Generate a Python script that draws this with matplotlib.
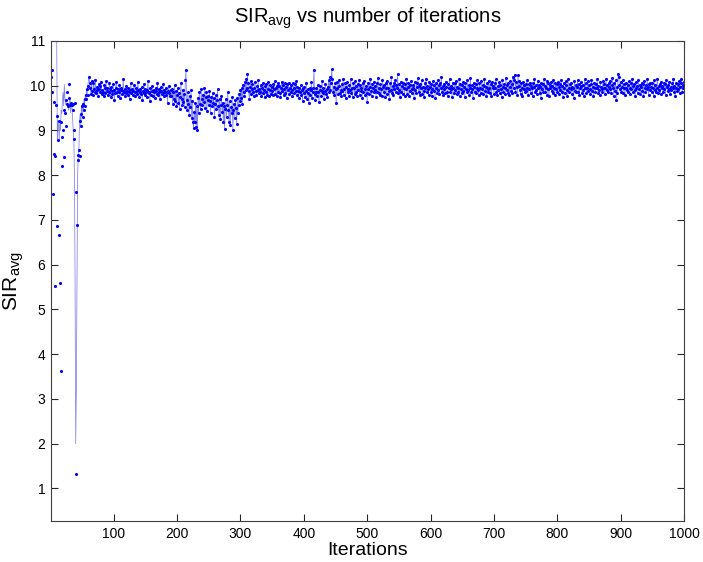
import numpy as np
import matplotlib
matplotlib.use("Agg")
import matplotlib.pyplot as plt

plt.rcParams['font.family'] = ['Liberation Sans', 'DejaVu Sans']
plt.rcParams['mathtext.fontset'] = 'custom'
plt.rcParams['mathtext.rm'] = 'Liberation Sans'

# ---- data ----
sir_early = [10.20, 10.35, 9.85, 7.59, 8.47, 9.64, 8.43, 5.53, 9.56, 9.32,
             6.87, 8.78, 6.66, 9.22, 5.60, 9.20, 3.62, 8.20, 8.85, 9.00,
             9.45, 8.41, 9.38, 9.10, 9.67, 9.60, 9.85, 9.55, 10.03, 9.72,
             9.58, 9.60, 9.62, 9.58, 9.60, 9.45, 9.00, 8.80, 9.62, 7.62,
             1.31, 6.88, 8.45, 8.34, 8.56, 8.43, 9.21, 9.36, 9.10, 9.55,
             9.30, 9.60, 9.45, 9.70, 9.55, 9.80, 9.70, 9.92, 9.80, 10.00,
             10.20]

line_early = [7.80, 12.0, 12.0, 12.0, 12.0, 12.0, 12.0, 12.0, 12.0, 11.0,
              8.80, 9.22, 9.10, 8.80, 9.20, 9.00, 9.45, 9.38, 9.67, 9.85,
              9.55, 10.03, 9.72, 9.58, 9.60, 9.62, 9.58, 9.60, 9.45, 9.62,
              9.70, 9.40, 9.60, 9.55, 9.30, 9.00, 8.80, 8.00, 5.60, 2.00,
              3.20, 5.60, 8.00, 8.45, 8.56, 9.21, 9.36, 9.10, 9.55, 9.30,
              9.60, 9.45, 9.70, 9.55, 9.80, 9.70, 9.92, 9.80, 10.00, 10.10,
              10.20]

sir_062_190 = [10.07, 9.95, 9.82, 10.10, 9.88, 9.80, 10.05, 9.92, 9.86, 10.12,
               9.84, 9.97, 9.90, 9.78, 10.04, 9.93, 9.85, 9.99, 10.08, 9.81,
               9.91, 9.87, 9.76, 10.02, 9.94, 9.83, 10.11, 9.89, 9.95, 9.79,
               9.86, 10.06, 9.92, 9.74, 9.98, 9.88, 9.82, 10.03, 9.90, 9.69,
               9.84, 9.96, 10.09, 9.87, 9.78, 9.93, 9.85, 10.01, 9.72, 9.90,
               9.95, 9.81, 9.88, 10.14, 9.86, 9.77, 9.92, 9.83, 9.99, 9.89,
               9.80, 9.94, 9.87, 9.70, 9.91, 10.05, 9.84, 9.93, 9.79, 9.88,
               10.02, 9.85, 9.76, 9.95, 9.89, 9.82, 10.08, 9.90, 9.74, 9.86,
               9.93, 9.81, 9.97, 9.68, 9.88, 9.84, 10.04, 9.79, 9.92, 9.86,
               9.75, 9.90, 10.11, 9.83, 9.87, 9.65, 9.94, 9.80, 9.89, 10.00,
               9.78, 9.91, 9.85, 9.72, 9.96, 9.88, 9.82, 10.06, 9.79, 9.93,
               9.86, 9.70, 9.89, 9.97, 9.81, 9.84, 10.03, 9.76, 9.90, 9.87,
               9.80, 9.94, 9.85, 9.62, 9.88, 9.99, 9.83, 9.77, 9.91]

sir_191_300 = [9.78, 9.92, 9.60, 9.85, 9.71, 10.02, 9.66, 9.88, 9.55, 9.79,
               9.94, 9.62, 9.83, 9.48, 9.75, 10.05, 9.70, 9.58, 9.90, 9.64,
               9.82, 9.53, 10.12, 10.35, 9.68, 9.45, 9.86, 9.60, 9.35, 9.77,
               9.52, 9.90, 9.28, 9.65, 9.20, 9.05, 9.42, 9.18, 9.62, 9.08,
               9.55, 9.00, 9.73, 9.38, 9.85, 9.60, 9.48, 9.92, 9.70, 9.56,
               9.80, 9.63, 9.95, 9.51, 9.74, 9.86, 9.44, 9.68, 9.78, 9.58,
               9.88, 9.66, 9.40, 9.75, 9.55, 9.83, 9.62, 9.72, 9.30, 9.60,
               9.80, 9.48, 9.68, 9.92, 9.55, 9.35, 9.70, 9.25, 9.58, 9.76,
               9.42, 9.62, 9.18, 9.55, 9.04, 9.48, 9.70, 9.30, 9.58, 9.85,
               9.45, 9.20, 9.66, 9.12, 9.52, 9.38, 9.75, 9.02, 9.45, 9.60,
               9.28, 9.68, 9.50, 9.15, 9.72, 9.40, 9.58, 9.82, 9.65, 9.90]

sir_301_330 = [9.72, 9.95, 9.60, 10.02, 9.85, 9.78, 10.08, 9.90, 10.15, 9.95,
               10.26, 10.05, 9.88, 9.70, 9.98, 10.10, 9.82, 9.93, 10.04, 9.86,
               9.76, 9.95, 10.08, 9.88, 9.80, 9.99, 9.90, 10.12, 9.84, 9.93]

sir_331_450 = [9.87, 10.02, 9.78, 9.95, 9.83, 10.06, 9.91, 9.74, 9.99, 9.86,
               10.04, 9.80, 9.93, 10.08, 9.76, 9.90, 10.01, 9.82, 9.97, 9.88,
               9.79, 10.03, 9.92, 10.10, 9.81, 9.95, 9.99, 9.77, 10.05, 9.87,
               10.00, 9.84, 9.75, 9.96, 10.09, 9.89, 10.02, 9.80, 9.93, 10.06,
               9.83, 9.98, 9.72, 10.04, 9.90, 10.07, 9.82, 9.95, 9.86, 10.01,
               9.91, 9.78, 10.05, 9.94, 9.84, 10.03, 9.88, 10.10, 9.79, 9.97,
               9.88, 9.72, 9.94, 9.85, 10.02, 9.79, 9.90, 9.66, 9.96, 9.83,
               9.98, 9.75, 9.88, 10.05, 9.70, 9.92, 9.84, 9.61, 9.95, 9.80,
               9.90, 10.08, 9.73, 9.86, 9.96, 10.36, 9.82, 9.68, 9.94, 9.87,
               9.78, 10.02, 9.85, 9.64, 9.91, 9.99, 9.76, 9.89, 10.10, 9.83,
               9.95, 9.70, 9.88, 10.04, 9.81, 9.92, 9.74, 9.97, 10.12, 9.86,
               10.20, 9.90, 10.05, 10.37, 10.15, 9.85, 9.98, 9.79, 10.06, 9.92]

sir_451_1000 = [9.62, 9.95, 10.08, 9.81, 9.99, 10.12, 9.84, 9.90, 9.76, 10.03,
                9.88, 10.14, 9.79, 9.93, 10.05, 9.72, 9.97, 10.09, 9.85, 9.92,
                9.78, 10.02, 9.90, 10.16, 9.83, 9.96, 9.74, 10.06, 9.94, 9.82,
                10.10, 9.87, 9.99, 9.77, 10.04, 9.91, 10.13, 9.80, 10.01, 9.89,
                9.95, 9.73, 10.07, 9.86, 10.11, 9.92, 9.79, 10.00, 9.84, 9.63,
                9.93, 10.06, 9.81, 9.98, 10.15, 9.88, 9.76, 10.03, 9.95, 9.85,
                10.09, 9.90, 10.00, 9.75, 10.05, 9.87, 10.18, 9.83, 9.96, 9.80,
                10.04, 9.92, 9.78, 10.12, 9.97, 9.86, 10.02, 9.74, 10.07, 9.94,
                9.82, 10.10, 9.95, 9.88, 9.71, 10.05, 9.91, 10.19, 9.84, 10.00,
                9.79, 10.06, 9.93, 10.13, 9.85, 10.01, 9.96, 10.26, 9.83, 10.04,
                9.90, 9.75, 10.09, 9.87, 9.99, 9.82, 10.07, 9.95, 9.78, 10.03,
                9.92, 10.14, 9.81, 9.97, 10.05, 9.76, 10.01, 9.88, 10.11, 9.93,
                9.84, 10.02, 9.96, 9.73, 10.08, 9.91, 9.83, 10.06, 9.98, 10.17,
                9.86, 9.99, 9.79, 10.04, 9.94, 10.12, 9.82, 9.97, 9.89, 9.74,
                10.06, 9.95, 10.15, 9.85, 10.00, 9.92, 9.80, 10.09, 9.98, 9.87,
                10.03, 9.77, 9.93, 10.10, 9.88, 10.01, 9.72, 10.05, 9.96, 9.84,
                10.13, 9.91, 10.02, 9.81, 10.06, 9.94, 10.20, 9.86, 9.99, 9.79,
                10.04, 9.92, 9.83, 10.09, 9.97, 9.87, 9.76, 10.03, 9.95, 10.14,
                9.85, 10.00, 9.93, 9.74, 10.07, 9.96, 9.84, 10.05, 9.91, 10.11,
                9.82, 9.98, 9.94, 9.86, 10.16, 9.78, 10.04, 9.92, 9.83, 10.01,
                10.08, 9.88, 9.97, 9.75, 10.06, 9.93, 9.85, 10.12, 9.90, 10.02,
                9.80, 9.96, 10.18, 9.87, 10.01, 9.92, 9.73, 10.07, 9.98, 9.86,
                10.04, 9.83, 9.95, 10.13, 9.91, 9.79, 10.05, 9.96, 9.84, 10.10,
                9.93, 10.02, 9.81, 9.99, 10.15, 9.88, 9.97, 9.76, 10.06, 9.92,
                9.85, 10.11, 9.96, 9.83, 10.03, 9.78, 10.08, 9.94, 10.00, 9.82,
                10.05, 9.95, 10.14, 9.87, 9.80, 9.99, 9.91, 10.09, 9.84, 10.02,
                9.93, 9.74, 10.12, 9.97, 9.86, 10.04, 9.96, 9.81, 10.17, 9.90,
                10.01, 9.84, 10.06, 9.79, 9.98, 10.10, 9.89, 10.03, 9.83, 10.19,
                9.94, 10.13, 10.25, 9.86, 10.08, 9.97, 9.80, 10.23, 10.00, 10.11,
                9.91, 9.82, 10.05, 9.95, 9.76, 10.09, 9.93, 10.01, 9.85, 10.04,
                9.88, 10.12, 9.96, 9.79, 10.03, 9.92, 10.07, 9.83, 9.99, 9.94,
                9.77, 10.05, 9.97, 10.14, 9.86, 10.01, 9.91, 9.81, 10.10, 9.95,
                10.02, 9.84, 9.98, 9.72, 10.06, 9.93, 10.04, 9.87, 10.16, 9.99,
                9.85, 9.94, 10.11, 9.80, 10.05, 9.92, 9.78, 10.02, 9.96, 10.08,
                9.88, 10.00, 9.83, 10.13, 9.95, 9.79, 10.06, 9.93, 10.03, 9.86,
                10.09, 9.97, 9.82, 10.04, 9.91, 10.12, 9.87, 9.99, 9.75, 10.05,
                9.95, 9.84, 10.10, 10.01, 9.90, 9.78, 10.15, 9.96, 9.87, 10.03,
                9.92, 10.07, 9.81, 9.98, 9.94, 9.73, 10.11, 9.89, 10.02, 9.85,
                9.97, 10.13, 9.86, 10.04, 9.80, 9.95, 10.08, 9.99, 9.84, 10.01,
                9.91, 9.77, 10.14, 9.96, 10.05, 9.83, 9.94, 10.10, 9.88, 10.02,
                9.93, 9.82, 10.04, 10.12, 9.89, 9.98, 9.76, 10.07, 9.95, 9.86,
                10.03, 9.94, 10.16, 9.84, 10.00, 9.91, 9.79, 10.09, 9.97, 9.92,
                9.87, 10.11, 9.96, 10.04, 9.82, 9.95, 10.14, 9.90, 10.02, 9.85,
                9.98, 10.06, 9.93, 10.10, 9.83, 10.01, 10.17, 9.94, 9.78, 10.05,
                9.89, 10.13, 9.68, 9.97, 9.84, 10.27, 10.19, 10.02, 9.92, 10.08,
                9.86, 9.98, 10.12, 9.83, 10.04, 9.95, 9.79, 10.07, 9.96, 9.90,
                10.02, 9.85, 10.10, 9.94, 9.81, 10.05, 9.92, 10.15, 9.99, 9.87,
                10.03, 9.91, 9.76, 10.08, 9.96, 10.00, 9.84, 10.13, 9.93, 10.02,
                9.82, 9.97, 10.06, 9.89, 10.04, 9.78, 10.11, 9.95, 9.86, 10.01,
                9.92, 10.14, 9.97, 9.80, 10.03, 9.90, 10.07, 9.98, 9.85, 10.05,
                9.94, 9.77, 10.12, 9.90, 10.02, 9.86, 9.96, 10.16, 9.83, 10.00,
                9.91, 10.04, 9.81, 10.09, 9.95, 9.99, 9.85, 10.06, 9.93, 10.03,
                9.79, 10.13, 9.97, 9.88, 10.01, 9.92, 10.08, 9.82, 9.98, 9.90,
                10.05, 9.94, 10.15, 9.86, 10.00, 9.76, 10.07, 9.96, 9.89, 10.04,
                9.93, 10.10, 9.83, 9.98, 10.05, 10.16, 9.87, 10.02, 9.95, 10.09]

x_ticks = [100, 200, 300, 400, 500, 600, 700, 800, 900, 1000]
y_ticks = [1, 2, 3, 4, 5, 6, 7, 8, 9, 10, 11]

title_text = r'SIR$_{\mathrm{avg}}$ vs number of iterations'
xlabel_text = 'Iterations'
ylabel_text = r'SIR$_{\mathrm{avg}}$'

sir_dots = np.concatenate([sir_early, sir_062_190, sir_191_300,
                           sir_301_330, sir_331_450, sir_451_1000])
sir_line = np.concatenate([line_early, sir_dots[len(line_early):]])
iters = np.arange(1, len(sir_dots) + 1)

# ---- figure ----
fig = plt.figure(figsize=(7.03, 5.62), dpi=100)
ax = fig.add_axes([51 / 703, 1 - 521 / 562, (684 - 51) / 703, (521 - 41) / 562])

ax.plot(iters, sir_line, color=(0.3, 0.3, 0.85), lw=0.55, alpha=0.7)
ax.plot(iters, sir_dots, linestyle='none', marker='.', color='#0000ff',
        markersize=4.5, markeredgewidth=0)

ax.set_xlim(1, 1000)
ax.set_ylim(0.27, 11)
ax.set_xticks(x_ticks)
ax.set_yticks(y_ticks)

ax.tick_params(direction='in', length=5, width=0.8, top=True, right=True,
               labelsize=10, colors='#262626', labelcolor='black', pad=4)
for s in ax.spines.values():
    s.set_color('#404040')
    s.set_linewidth(0.8)

ax.set_title(title_text, fontsize=14.5, pad=13)
ax.set_xlabel(xlabel_text, fontsize=14, labelpad=1)
ax.set_ylabel(ylabel_text, fontsize=15, labelpad=3)

fig.savefig('out.png', dpi=100)
